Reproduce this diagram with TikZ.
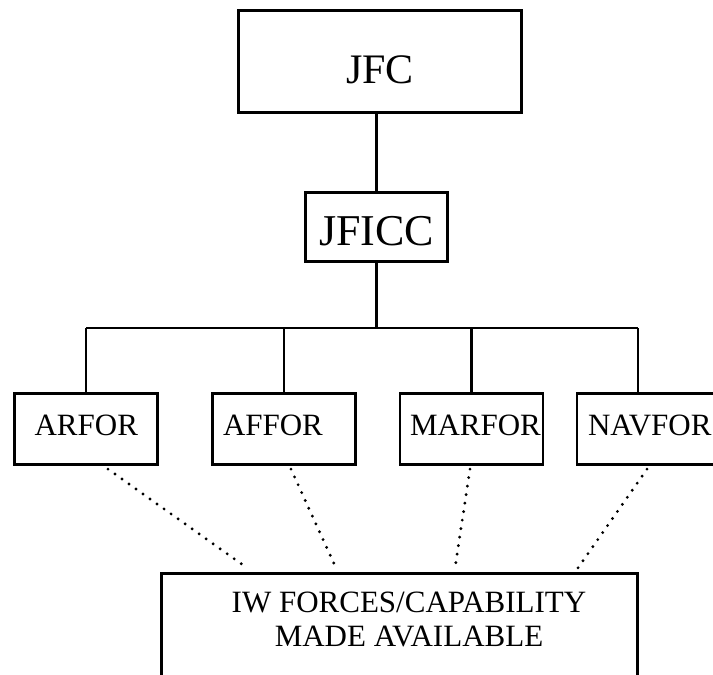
\documentclass[tikz,border=0pt]{standalone}
\usepackage{fontspec}
\setmainfont{Liberation Serif}
\begin{document}
\begin{tikzpicture}[x=1pt,y=-1pt,
  box/.style={draw, line width=2.8pt, inner xsep=0pt, inner ysep=0pt, rectangle},
  unitbox/.style={box, text height=41.7pt, text depth=29.7pt, font=\fontsize{31}{34}\selectfont},
  link/.style={line width=2.2pt},
  dots/.style={line width=3.2pt, line cap=round, dash pattern=on 0pt off 8.6pt}]
\clip (0,0) rectangle (713,675);
\fill[white] (0,0) rectangle (713,675);
% top boxes
\node[box, minimum width=283.4pt, text height=72.7pt, text depth=29.7pt,
      font=\fontsize{42}{48}\selectfont] (JFC) at (380,61.5) {JFC};
\node[box, minimum width=142.4pt, text height=52.7pt, text depth=16.7pt,
      font=\fontsize{44}{50}\selectfont] (JFICC) at (376.5,227) {JFICC};
% component boxes
\node[unitbox] (ARFOR) at (86.3,429) {\makebox[143pt][c]{ARFOR}};
\node[unitbox] (AFFOR) at (284,429) {\makebox[143pt][l]{\hspace*{10.5pt}AFFOR}};
\node[unitbox] (MARFOR) at (471.5,429) {\makebox[143pt][l]{\hspace*{10pt}MARFOR}};
\node[unitbox] (NAVFOR) at (648.5,429) {\makebox[143pt][l]{\hspace*{11pt}NAVFOR}};
% IW box
\node[box, minimum width=476.4pt, minimum height=146.7pt] (IW) at (399.5,646.65) {};
\node[inner sep=0pt, align=center, font=\fontsize{31}{34}\selectfont] (IWtext) at (409,619.5)
  {IW FORCES/CAPABILITY\\MADE AVAILABLE};
% connectors
\coordinate (bl) at (86,328);
\coordinate (br) at (638,328);
\draw[link] (JFICC.north) -- (JFICC.north |- JFC.south);
\draw[link] (JFICC.south) -- (JFICC.south |- bl);
\draw[link] (bl) -- (br);
\draw[link] (bl) -- (bl |- ARFOR.north);
\draw[link] (AFFOR.north |- bl) -- (AFFOR.north);
\draw[link] (MARFOR.north |- bl) -- (MARFOR.north);
\draw[link] (br) -- (br |- NAVFOR.north);
% dotted links
\draw[dots] ([xshift=21.7pt,yshift=-3pt]ARFOR.south) -- ([xshift=-152.5pt,yshift=4pt]IW.north);
\draw[dots] ([xshift=7pt,yshift=-3pt]AFFOR.south) -- ([xshift=-63.5pt,yshift=4pt]IW.north);
\draw[dots] ([xshift=-1.5pt,yshift=-3pt]MARFOR.south) -- ([xshift=55.5pt,yshift=4pt]IW.north);
\draw[dots] ([xshift=-1.5pt,yshift=-3pt]NAVFOR.south) -- ([xshift=178.5pt,yshift=4pt]IW.north);
\end{tikzpicture}
\end{document}
